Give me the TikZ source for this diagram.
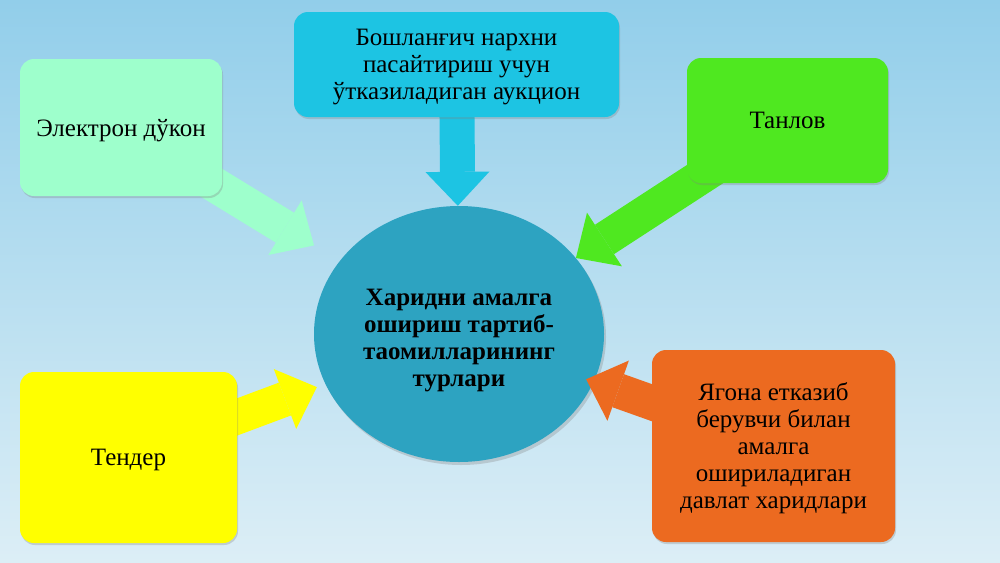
\documentclass[tikz,border=0pt]{standalone}
\usepackage{fontspec}
\setmainfont{Liberation Serif}
\usetikzlibrary{shapes.geometric,arrows.meta,shadows}
\pgfdeclarelayer{bg}
\pgfdeclarelayer{front}
\pgfsetlayers{bg,main,front}
\definecolor{sky}{HTML}{92CEEA}
\definecolor{skylow}{HTML}{DCEEF6}
\definecolor{hubcol}{HTML}{2DA3C1}
\definecolor{auccol}{HTML}{1DC4E3}
\definecolor{shopcol}{HTML}{9EFFCC}
\definecolor{selcol}{HTML}{4FE820}
\definecolor{tendcol}{HTML}{FFFF00}
\definecolor{solecol}{HTML}{EC6A20}
\tikzset{
  kind/.style={rounded corners=14pt,fill=#1,align=center,inner sep=0pt,
    font=\fontsize{25}{27}\selectfont,text depth=0pt,
    drop shadow={opacity=0.3,shadow xshift=1pt,shadow yshift=-2pt}},
  feed/.style={draw=#1,line width=35pt,
    -{Triangle[width=64pt 0,length=34pt 0,line width=0pt 0]}},
}
\begin{document}
\begin{tikzpicture}[x=1pt,y=-1pt]
\useasboundingbox (0,0) rectangle (1000,562);
\begin{pgfonlayer}{bg}
\fill[top color=sky,bottom color=skylow] (0,0) rectangle (1000,562);
\end{pgfonlayer}
\node[ellipse,fill=hubcol,minimum width=290pt,minimum height=256pt,inner sep=0pt,align=center,
  font=\bfseries\fontsize{25}{27}\selectfont,text depth=0pt,
  drop shadow={opacity=0.3,shadow xshift=2pt,shadow yshift=-3pt}] (hub) at (459,334)
  {\rule{0pt}{23pt}Харидни амалга\\ошириш тартиб-\\таомилларининг\\турлари};
\begin{pgfonlayer}{front}
\node[kind=auccol,minimum width=325pt,minimum height=105pt] (auc) at (456.5,64.5)
  {Бошланғич нархни\\пасайтириш учун\\ўтказиладиган аукцион};
\node[kind=shopcol,minimum width=202pt,minimum height=137pt] (shop) at (121,127.5) {Электрон дўкон};
\node[kind=selcol,minimum width=201pt,minimum height=125pt] (sel) at (787.5,120.5) {Танлов};
\node[kind=tendcol,minimum width=217pt,minimum height=171pt] (tend) at (128.5,457.5) {Тендер};
\node[kind=solecol,minimum width=243pt,minimum height=192pt] (sole) at (773.5,446)
  {Ягона етказиб\\берувчи билан\\амалга\\ошириладиган\\давлат харидлари};
\end{pgfonlayer}
\draw[feed=auccol] (auc.center) -- (hub);
\draw[feed=shopcol,shorten >=30pt] (shop.center) -- (hub);
\draw[feed=selcol] (sel.center) -- (hub);
\draw[feed=tendcol,shorten >=9pt] (tend.center) -- (hub);
\draw[feed=solecol,shorten >=-8pt] (sole.center) -- (hub);
\end{tikzpicture}
\end{document}
